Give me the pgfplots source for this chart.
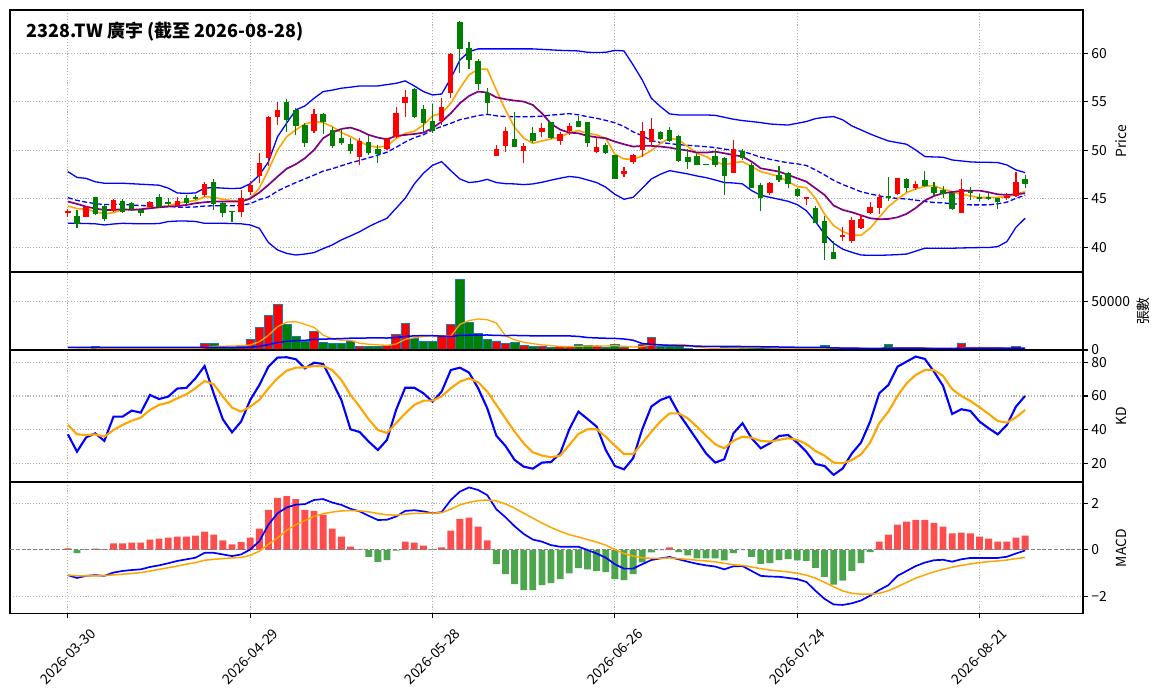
\documentclass[border=0pt]{standalone}
\usepackage{fontspec}
\setmainfont{Noto Sans CJK TC}
\usepackage{pgfplots}
\pgfplotsset{compat=1.18}
\usepackage{pgfplotstable}

\definecolor{cup}{RGB}{255,0,0}
\definecolor{cdn}{RGB}{0,128,0}
\definecolor{hup}{RGB}{255,77,77}
\definecolor{hdn}{RGB}{77,166,77}
\definecolor{maf}{RGB}{255,165,0}
\definecolor{mas}{RGB}{128,0,128}
\definecolor{bbc}{RGB}{0,0,255}
\definecolor{edgec}{RGB}{31,119,180}
\definecolor{gridc}{RGB}{176,176,176}

% candles: i bot top lo hi
\pgfplotstableread{
i bot top lo hi
0 43.5 43.7 43.1 43.9
2 43.16 44.19 43.1 44.26
5 43.75 44.88 43.64 44.95
9 44.19 44.64 44.12 44.74
12 44.26 44.78 44.19 45.15
15 45.4 46.53 45.22 46.7
19 43.68 45.05 43.16 45.91
20 45.74 46.43 45.4 46.87
21 47.39 48.66 46.67 49.76
22 49.18 53.47 48.38 53.54
23 53.47 54.16 52.61 55.02
27 52.03 53.71 51.82 54.23
32 49.35 50.96 48.49 51.24
35 50.17 51.13 50.03 51.24
36 51.41 53.81 51.24 54.5
37 54.85 55.46 53.4 56.22
41 53.06 54.43 52.61 55.36
42 55.95 59.93 55.36 60.0
47 49.45 50.1 49.45 50.55
48 50.45 51.99 49.86 52.44
50 49.97 50.45 48.73 50.79
52 51.89 52.34 51.34 52.78
54 50.96 51.65 50.55 51.92
55 52.03 52.51 51.58 52.85
58 49.86 50.34 49.69 51.24
61 47.6 47.87 47.29 48.32
62 48.83 49.48 48.56 49.62
63 50.03 51.99 49.35 52.96
64 50.89 52.2 50.38 53.3
73 47.7 50.1 47.7 51.07
77 45.64 46.67 45.4 46.77
81 44.95 45.15 44.36 45.22
85 41.1 41.27 40.69 42.13
86 40.69 42.82 40.48 43.16
87 42.03 42.92 41.89 43.33
88 43.5 44.19 43.44 44.64
89 44.09 45.15 43.44 45.5
91 45.46 47.11 45.4 47.11
93 46.08 46.53 45.91 46.87
98 43.5 46.01 43.5 47.01
103 45.05 45.29 44.88 45.64
104 45.29 46.7 45.15 47.8
}\candR
\pgfplotstableread{
i bot top lo hi
1 42.4 43.2 41.95 43.85
3 43.44 45.15 43.33 45.22
4 42.89 44.26 42.75 44.36
6 43.68 44.81 43.57 44.95
7 43.92 44.54 43.85 44.64
8 43.5 43.85 43.23 43.92
10 44.19 45.15 44.05 45.5
11 44.5 44.71 44.19 45.12
13 44.6 45.05 44.43 45.4
14 45.02 45.19 44.88 45.36
16 44.47 46.74 43.85 47.0
17 43.57 44.6 43.09 44.71
18 43.6 43.7 42.6 43.75
24 53.13 54.95 51.92 55.26
25 52.51 54.16 51.58 54.33
26 50.79 52.61 50.31 52.78
28 52.96 53.71 51.68 53.88
29 50.48 52.1 50.2 52.44
30 50.79 51.31 50.55 52.27
31 49.97 50.65 49.62 51.24
33 49.69 50.86 49.52 51.48
34 49.62 50.1 48.66 50.55
38 53.47 56.32 53.3 56.39
39 52.78 54.23 51.92 54.67
40 52.03 53.02 51.75 54.74
43 60.48 63.23 57.94 63.33
44 59.31 60.52 58.35 61.2
45 56.8 59.2 56.22 59.38
46 54.91 55.95 53.75 56.39
49 50.38 51.17 50.31 53.99
51 50.96 51.75 50.72 52.37
53 51.24 52.89 51.13 52.96
56 52.44 53.02 52.37 53.54
57 50.72 52.89 50.38 52.96
59 49.69 50.52 49.62 50.72
60 47.08 49.48 47.08 49.52
65 51.17 51.86 51.07 52.03
66 50.96 52.1 50.86 52.37
67 48.93 51.48 48.83 51.58
68 48.83 49.28 48.11 50.1
69 48.52 49.42 48.45 49.62
70 48.5 48.58 48.45 48.6
71 48.52 49.42 48.32 50.1
72 47.39 49.18 45.4 49.35
74 49.18 49.97 49.0 50.1
75 46.15 48.49 46.08 48.73
76 45.12 46.43 43.78 46.6
78 46.94 47.46 46.77 48.38
79 46.5 47.63 46.08 47.73
80 45.33 46.01 45.22 46.08
82 42.54 44.02 42.47 44.26
83 40.41 42.71 38.69 43.23
84 38.83 39.48 38.76 40.69
90 45.12 45.29 44.81 47.22
92 46.15 47.01 45.74 47.11
94 46.32 46.94 46.19 47.84
95 45.57 46.25 45.4 46.77
96 45.5 45.91 45.05 46.32
97 43.92 45.57 43.85 45.64
99 45.64 45.81 44.88 46.19
100 44.95 45.22 44.81 45.5
101 44.98 45.15 44.88 45.57
102 44.71 45.05 43.92 45.12
105 46.53 47.04 46.08 47.46
}\candG

% price lines: i ma5 ma10 mid up lo
\pgfplotstableread{
i m5 m10 mid up lo
0 44.26 44.71 45.12 47.80 42.47
1 43.99 44.47 44.83 47.20 42.47
2 43.92 44.19 44.65 47.10 42.45
3 43.68 43.99 44.50 46.75 42.42
4 43.44 43.85 44.40 46.60 42.30
5 43.57 43.85 44.42 46.60 42.40
6 43.85 43.92 44.43 46.60 42.47
7 43.92 43.85 44.35 46.55 42.44
8 43.85 43.92 44.30 46.50 42.42
9 44.12 44.02 44.28 46.45 42.42
10 44.12 44.12 44.25 46.40 42.45
11 44.26 44.19 44.22 46.10 42.65
12 44.54 44.26 44.14 45.60 42.70
13 44.71 44.36 44.13 45.55 42.70
14 44.81 44.54 44.16 45.60 42.66
15 45.22 44.64 44.25 46.10 42.47
16 45.15 44.71 44.28 46.15 42.47
17 44.95 44.71 44.27 46.10 42.47
18 44.81 44.71 44.28 46.05 42.45
19 44.71 44.71 44.32 46.10 42.42
20 45.05 45.02 44.50 46.55 42.30
21 46.08 45.64 44.90 47.45 41.96
22 47.97 46.43 45.20 48.80 40.48
23 50.03 47.29 45.80 51.40 39.72
24 51.40 48.10 46.25 52.80 39.37
25 52.10 48.56 46.67 54.16 39.20
26 52.71 49.18 47.05 54.57 39.30
27 52.96 50.03 47.44 55.36 39.45
28 52.85 51.24 47.85 56.05 39.86
29 52.44 51.82 48.10 56.20 40.24
30 51.82 52.20 48.40 56.40 40.76
31 51.41 52.34 48.70 56.50 41.17
32 50.89 52.03 48.95 56.63 41.60
33 50.45 51.58 49.22 56.63 42.13
34 50.31 51.31 49.50 56.63 42.58
35 50.45 51.13 49.80 56.77 42.99
36 51.20 51.48 50.30 56.90 44.02
37 51.75 51.58 50.85 57.15 45.05
38 51.96 51.68 51.30 56.63 46.53
39 52.61 51.82 51.60 56.05 47.63
40 53.54 52.27 52.10 55.70 48.45
41 53.81 52.96 52.45 55.80 48.83
42 54.85 53.81 52.78 57.40 47.90
43 56.39 54.85 53.15 59.30 47.04
44 57.77 55.60 53.35 60.17 46.67
45 58.35 56.05 53.58 60.45 46.77
46 58.35 55.95 53.70 60.45 47.00
47 56.22 55.46 53.55 60.45 46.67
48 54.16 55.26 53.48 60.45 46.56
49 52.37 55.12 53.46 60.45 46.53
50 51.24 55.02 53.45 60.45 46.46
51 50.72 54.67 53.47 60.45 46.53
52 50.96 53.81 53.52 60.40 46.70
53 51.18 52.73 53.62 60.35 46.92
54 51.35 52.13 53.70 60.30 47.12
55 51.82 51.82 53.77 60.27 47.30
56 52.03 51.75 53.66 60.24 47.20
57 51.75 51.48 53.46 60.10 46.94
58 51.58 51.34 53.30 60.07 46.67
59 51.24 51.24 53.08 60.10 46.19
60 49.59 50.89 52.84 60.30 45.46
61 49.11 50.62 52.45 60.24 44.95
62 49.07 50.38 51.90 58.80 45.15
63 49.42 50.45 51.50 57.25 46.08
64 49.97 50.45 51.00 55.36 47.04
65 50.72 50.38 50.80 54.50 47.53
66 51.24 50.27 50.69 53.75 47.90
67 51.07 50.10 50.58 53.64 47.73
68 50.38 49.97 50.51 53.64 47.56
69 49.69 49.76 50.44 53.64 47.35
70 49.35 49.76 50.37 53.64 47.18
71 48.83 49.86 50.28 53.60 46.94
72 48.49 49.69 50.12 53.40 46.67
73 48.73 49.52 50.00 53.20 46.63
74 48.83 49.35 49.88 53.06 46.53
75 48.32 48.83 49.60 52.96 45.84
76 47.80 48.14 49.28 52.85 45.36
77 47.56 47.97 49.07 52.71 45.15
78 47.29 47.80 48.88 52.65 44.95
79 46.77 47.46 48.71 52.60 44.74
80 46.25 47.11 48.60 52.78 44.40
81 46.15 46.77 48.43 52.96 43.78
82 45.05 46.08 47.98 53.26 42.65
83 43.40 45.40 47.46 53.40 41.35
84 42.23 44.30 46.90 53.47 40.41
85 41.62 43.85 46.46 53.13 39.80
86 41.24 43.61 46.10 52.51 39.48
87 41.24 43.30 45.72 52.10 39.20
88 41.96 42.99 45.50 51.68 39.17
89 43.09 42.89 45.30 51.31 39.17
90 44.19 42.92 45.12 50.96 39.20
91 44.95 43.09 45.04 50.79 39.24
92 45.64 43.44 44.97 50.62 39.30
93 46.01 44.05 44.86 50.03 39.60
94 46.29 44.81 44.72 49.35 39.90
95 46.36 45.29 44.62 49.31 39.90
96 45.98 45.57 44.58 49.28 39.90
97 45.74 45.70 44.48 49.00 39.90
98 45.46 45.81 44.43 48.90 39.93
99 45.29 45.84 44.37 48.80 39.95
100 45.12 45.84 44.37 48.76 39.97
101 45.15 45.67 44.37 48.76 39.97
102 45.15 45.46 44.48 48.73 40.07
103 45.22 45.40 44.65 48.49 40.58
104 45.46 45.46 45.04 47.97 42.06
105 45.74 45.57 45.38 47.70 42.99
}\plines

\pgfplotstableread{
i v
0 1000
2 1000
5 2400
9 1700
12 1200
15 6850
19 3400
20 11000
21 23300
22 35300
23 46900
27 19200
32 3400
35 4450
36 16100
37 27400
41 14700
42 26400
47 9250
48 6850
50 4800
52 3400
54 3400
55 4100
58 3400
61 2700
62 700
63 5500
64 13000
73 2400
77 1400
81 1000
85 1000
86 1000
87 1000
88 1000
89 1400
91 2400
93 1000
98 7200
103 1000
104 3800
}\volR
\pgfplotstableread{
i v
1 1000
3 3800
4 1400
6 1000
7 1000
8 1000
10 1200
11 1000
13 1200
14 2000
16 6850
17 2400
18 2400
24 26400
25 14000
26 9250
28 7900
29 6850
30 6850
31 9250
33 3400
34 3400
38 12000
39 8900
40 8900
43 72600
44 28400
45 17100
46 11000
49 7900
51 3400
53 2700
56 5800
57 4450
59 2700
60 5800
65 3400
66 3400
67 3400
68 2000
69 1000
70 700
71 1400
72 3400
74 2400
75 2400
76 2400
78 1400
79 1000
80 1000
82 1400
83 4450
84 2400
90 5800
92 1400
94 1000
95 1000
96 1000
97 1400
99 2400
100 1000
101 1000
102 1000
105 1000
}\volG
\pgfplotstableread{
i m5 m20
0 2400 2600
1 2200 2600
2 2000 2600
3 2000 2600
4 1640 2600
5 1920 2600
6 1920 2600
7 1920 2600
8 1360 2600
9 1420 2600
10 1180 2600
11 1180 2600
12 1220 2600
13 1260 2600
14 1320 2600
15 2450 2600
16 3620 2600
17 3860 2600
18 4100 2600
19 4380 2600
20 5210 2690
21 8500 3805
22 15080 5520
23 23980 7675
24 28580 8925
25 29180 9505
26 26370 9918
27 23150 10828
28 15350 11173
29 11440 11430
30 10010 11713
31 10010 12125
32 6850 12235
33 5950 12345
34 5260 12415
35 4780 12295
36 6150 12758
37 10950 14008
38 12670 14488
39 13770 14763
40 14660 14658
41 14380 14228
42 14180 13783
43 26300 15068
44 30200 15168
45 31840 15323
46 31100 15410
47 27670 14913
48 14520 14860
49 10420 14913
50 7960 14810
51 6440 14518
52 5270 14518
53 4440 14483
54 3540 14483
55 3400 14465
56 3880 13950
57 4090 12803
58 4230 12373
59 4090 12063
60 4430 11908
61 3810 11308
62 3060 10023
63 3480 6668
64 5540 5900
65 5060 5210
66 5200 4830
67 5740 4540
68 5040 4300
69 2640 3950
70 2100 3750
71 1700 3650
72 1700 3650
73 1780 3630
74 2060 3580
75 2400 3500
76 2600 3330
77 2200 3175
78 2000 3075
79 1720 2990
80 1440 2750
81 1160 2665
82 1160 2700
83 1770 2650
84 2050 2120
85 2050 2000
86 2050 1880
87 1970 1760
88 1280 1710
89 1080 1730
90 2040 1980
91 2320 2030
92 2400 1930
93 2400 1860
94 2320 1790
95 1360 1720
96 1080 1650
97 1080 1650
98 2320 1940
99 2600 2010
100 2600 2010
101 2600 2010
102 2520 1990
103 1280 1820
104 1560 1890
105 1560 1890
}\volma

\pgfplotstableread{
i k d
0 37.2 42.8
1 26.9 37.2
2 35.4 36.8
3 37.8 37.2
4 33.3 35.8
5 47.7 39.8
6 47.7 42.8
7 51.3 45.3
8 50.1 47.1
9 60.6 51.7
10 58.2 54.7
11 59.6 56.0
12 64.4 58.6
13 64.8 61.0
14 70.5 64.6
15 77.8 68.9
16 61.4 66.9
17 46.1 59.6
18 38.4 53.1
19 44.8 50.7
20 57.6 53.7
21 66.5 57.6
22 77.4 64.6
23 82.8 70.5
24 83.0 75.0
25 81.8 76.8
26 76.4 77.0
27 79.8 77.8
28 79.0 77.8
29 68.5 75.4
30 57.6 69.5
31 40.2 60.6
32 38.6 53.7
33 32.9 46.1
34 27.9 39.8
35 33.9 38.0
36 51.7 43.8
37 64.9 49.7
38 64.9 54.7
39 61.6 57.2
40 56.6 57.2
41 62.6 59.8
42 75.4 64.6
43 76.8 68.5
44 73.9 70.5
45 64.6 68.1
46 52.7 62.6
47 36.4 54.7
48 30.3 46.7
49 22.0 38.8
50 18.0 31.9
51 16.8 26.5
52 20.4 24.6
53 20.8 23.6
54 25.9 24.6
55 40.2 30.9
56 50.7 37.4
57 46.3 40.2
58 41.8 40.2
59 27.9 35.8
60 18.4 30.5
61 16.4 25.5
62 23.0 25.5
63 40.2 31.9
64 53.7 38.8
65 57.6 44.8
66 59.6 49.7
67 49.7 49.7
68 41.8 46.7
69 33.9 41.8
70 25.9 36.4
71 20.4 31.3
72 22.4 28.9
73 37.8 33.4
74 43.8 35.8
75 34.9 35.2
76 28.9 33.3
77 31.9 32.9
78 36.2 33.9
79 36.8 34.9
80 32.3 33.9
81 26.9 31.5
82 19.6 27.3
83 18.4 24.6
84 13.1 20.4
85 17.0 20.0
86 25.9 22.0
87 32.3 25.3
88 44.8 32.3
89 61.6 43.8
90 66.5 50.7
91 77.4 60.0
92 80.4 67.5
93 83.4 72.5
94 82.0 75.4
95 74.5 75.4
96 66.0 71.9
97 49.3 64.0
98 52.1 60.0
99 51.1 57.0
100 44.8 53.3
101 40.8 49.3
102 37.2 45.1
103 42.8 44.2
104 53.7 47.3
105 60.0 51.7
}\kd

\pgfplotstableread{
i v
0 0.06
2 0.01
3 0.05
4 0.02
5 0.27
6 0.27
7 0.31
8 0.31
9 0.44
10 0.48
11 0.52
12 0.57
13 0.57
14 0.61
15 0.78
16 0.65
17 0.40
18 0.23
19 0.33
20 0.52
21 0.91
22 1.72
23 2.23
24 2.31
25 2.18
26 1.72
27 1.67
28 1.50
29 0.91
30 0.57
31 0.14
32 0.02
37 0.35
38 0.31
39 0.18
40 0.01
41 0.10
42 0.82
43 1.33
44 1.38
45 0.99
46 0.40
66 0.10
89 0.35
90 0.65
91 1.08
92 1.21
93 1.29
94 1.29
95 1.16
96 0.99
97 0.70
98 0.74
99 0.70
100 0.57
101 0.48
102 0.35
103 0.35
104 0.52
105 0.61
}\histP
\pgfplotstableread{
i v
1 -0.14
33 -0.31
34 -0.52
35 -0.44
36 -0.04
47 -0.62
48 -1.05
49 -1.48
50 -1.73
51 -1.73
52 -1.52
53 -1.43
54 -1.26
55 -1.01
56 -0.79
57 -0.84
58 -0.92
59 -0.96
60 -1.26
61 -1.30
62 -1.05
63 -0.54
64 -0.11
65 -0.01
67 -0.10
68 -0.24
69 -0.37
70 -0.37
71 -0.37
72 -0.45
73 -0.14
74 -0.02
75 -0.31
76 -0.61
77 -0.57
78 -0.44
79 -0.40
80 -0.45
81 -0.48
82 -0.78
83 -1.16
84 -1.50
85 -1.33
86 -0.91
87 -0.57
88 -0.10
}\histN
\pgfplotstableread{
i dif sig
0 -1.09 -1.09
1 -1.21 -1.12
2 -1.12 -1.12
3 -1.09 -1.12
4 -1.12 -1.11
5 -0.98 -1.08
6 -0.91 -1.05
7 -0.87 -1.02
8 -0.84 -0.98
9 -0.74 -0.92
10 -0.67 -0.84
11 -0.58 -0.77
12 -0.48 -0.70
13 -0.41 -0.62
14 -0.34 -0.55
15 -0.13 -0.45
16 -0.13 -0.41
17 -0.20 -0.38
18 -0.27 -0.35
19 -0.20 -0.33
20 0.01 -0.24
21 0.37 -0.06
22 1.08 0.23
23 1.57 0.51
24 1.82 0.84
25 1.94 1.08
26 1.96 1.26
27 2.14 1.43
28 2.18 1.55
29 2.03 1.62
30 1.93 1.67
31 1.76 1.69
32 1.65 1.67
33 1.46 1.63
34 1.28 1.56
35 1.29 1.50
36 1.43 1.49
37 1.67 1.53
38 1.70 1.56
39 1.65 1.57
40 1.57 1.57
41 1.62 1.60
42 2.14 1.74
43 2.50 1.93
44 2.68 2.04
45 2.57 2.11
46 2.35 2.14
47 1.74 2.10
48 1.40 1.97
49 1.01 1.79
50 0.68 1.57
51 0.44 1.36
52 0.35 1.15
53 0.20 0.96
54 0.13 0.79
55 0.13 0.65
56 0.13 0.55
57 -0.01 0.44
58 -0.16 0.33
59 -0.34 0.20
60 -0.62 0.01
61 -0.81 -0.16
62 -0.81 -0.27
63 -0.62 -0.34
64 -0.44 -0.37
65 -0.37 -0.37
66 -0.31 -0.35
67 -0.41 -0.38
68 -0.51 -0.41
69 -0.60 -0.45
70 -0.67 -0.48
71 -0.72 -0.52
72 -0.84 -0.58
73 -0.71 -0.645
74 -0.70 -0.67
75 -0.91 -0.74
76 -1.12 -0.81
77 -1.15 -0.87
78 -1.16 -0.91
79 -1.21 -0.95
80 -1.26 -1.01
81 -1.38 -1.09
82 -1.76 -1.22
83 -2.11 -1.40
84 -2.35 -1.59
85 -2.37 -1.77
86 -2.30 -1.87
87 -2.18 -1.91
88 -1.97 -1.91
89 -1.73 -1.87
90 -1.52 -1.76
91 -1.12 -1.59
92 -0.91 -1.40
93 -0.70 -1.22
94 -0.55 -1.08
95 -0.45 -0.95
96 -0.43 -0.84
97 -0.51 -0.75
98 -0.41 -0.67
99 -0.35 -0.61
100 -0.35 -0.55
101 -0.35 -0.51
102 -0.35 -0.48
103 -0.30 -0.44
104 -0.16 -0.38
105 -0.03 -0.33
}\macd

\pgfplotsset{
  panel/.style={
    scale only axis, width=1073pt,
    xmin=-6.35, xmax=111.35,
    xtick={0,20,40,60,80,100},
    xtick pos=bottom, ytick pos=right, yticklabel pos=right,
    tick align=outside, major tick length=4.86pt,
    tick style={black, line width=1.1pt},
    axis line style={line width=1.1pt},
    grid=major,
    major grid style={gridc, line width=1.1pt, dash pattern=on 1.1pt off 1.8pt},
    ticklabel style={font=\fontsize{13.9}{16}\selectfont},
    anchor=north west,
  },
  upper/.style={xticklabels={}, xtick style={draw=none}},
  candle/.style={draw=none, mark=none, forget plot,
    error bars/.cd, y dir=plus, y explicit, error mark=none,
    error bar style={draw=#1}},
}

\begin{document}
\begin{tikzpicture}
\fill[white] (0pt,0pt) rectangle (1163pt,-698pt);
\useasboundingbox (0pt,0pt) rectangle (1163pt,-698pt);

% ---------- price ----------
\begin{axis}[panel, upper, at={(10pt,-10pt)}, height=262pt,
  ymin=37.45, ymax=64.46, ytick={40,45,50,55,60}, yticklabels={40,45,50,55,60}]
\addplot[bbc, line width=1.3pt, mark=none] table[x=i,y=up] \plines;
\addplot[bbc, line width=1.3pt, mark=none] table[x=i,y=lo] \plines;
\addplot[bbc, line width=1.3pt, mark=none, dash pattern=on 5pt off 2.4pt] table[x=i,y=mid] \plines;
\addplot[maf, line width=1.6pt, mark=none] table[x=i,y=m5] \plines;
\addplot[mas, line width=1.7pt, mark=none] table[x=i,y=m10] \plines;
\addplot[candle=cup, error bar style={line width=1.1pt}]
  table[x=i, y=lo, y error plus expr={\thisrow{hi}-\thisrow{lo}}] \candR;
\addplot[candle=cup, error bar style={line width=5.4pt}]
  table[x=i, y=bot, y error plus expr={\thisrow{top}-\thisrow{bot}}] \candR;
\addplot[candle=cdn, error bar style={line width=1.1pt}]
  table[x=i, y=lo, y error plus expr={\thisrow{hi}-\thisrow{lo}}] \candG;
\addplot[candle=cdn, error bar style={line width=5.4pt}]
  table[x=i, y=bot, y error plus expr={\thisrow{top}-\thisrow{bot}}] \candG;
\end{axis}

% ---------- volume ----------
\begin{axis}[panel, upper, at={(10pt,-272pt)}, height=78pt,
  ymin=0, ymax=80080, ytick={0,50000}, yticklabels={0,50000}, scaled y ticks=false]
\addplot[ybar, bar width=0.95, bar shift=0pt, fill=cup, draw=edgec, line width=0.7pt] table[x=i,y=v] \volR;
\addplot[ybar, bar width=0.95, bar shift=0pt, fill=cdn, draw=edgec, line width=0.7pt] table[x=i,y=v] \volG;
\addplot[maf, line width=1.3pt, mark=none] table[x=i,y=m5] \volma;
\addplot[bbc, line width=1.5pt, mark=none] table[x=i,y=m20] \volma;
\end{axis}

% ---------- KD ----------
\begin{axis}[panel, upper, at={(10pt,-350pt)}, height=131.7pt,
  ymin=9.07, ymax=87.3, ytick={20,40,60,80}, yticklabels={20,40,60,80}]
\addplot[bbc, line width=2.1pt, mark=none] table[x=i,y=k] \kd;
\addplot[maf, line width=2.1pt, mark=none] table[x=i,y=d] \kd;
\end{axis}

% ---------- MACD ----------
\begin{axis}[panel, at={(10pt,-482.3pt)}, height=131pt,
  ymin=-2.73, ymax=2.9, ytick={-2,0,2}, yticklabels={−2,0,2},
  xticklabels={2026-03-30,2026-04-29,2026-05-28,2026-06-26,2026-07-24,2026-08-21},
  xticklabel style={yshift=-38.3pt, rotate=45, anchor=center}]
\addplot[ybar, bar width=0.75, bar shift=0pt, fill=hup, draw=none] table[x=i,y=v] \histP;
\addplot[ybar, bar width=0.75, bar shift=0pt, fill=hdn, draw=none] table[x=i,y=v] \histN;
\addplot[gray, line width=1.1pt, dash pattern=on 4pt off 1.8pt, mark=none] coordinates {(-6.35,0) (111.35,0)};
\addplot[bbc, line width=1.7pt, mark=none] table[x=i,y=dif] \macd;
\addplot[maf, line width=1.5pt, mark=none] table[x=i,y=sig] \macd;
\end{axis}

% ---------- texts ----------
\node[anchor=base west, inner sep=0pt, font=\bfseries\fontsize{18}{22}\selectfont] at (26.6pt,-37.3pt) {2328.TW 廣宇 (截至 2026-08-28)};
\node[rotate=90, anchor=center, inner sep=0pt, font=\fontsize{13.9}{16}\selectfont] at (1121pt,-141pt) {Price};
\node[rotate=90, anchor=center, inner sep=0pt, font=\fontsize{13.9}{16}\selectfont] at (1143.5pt,-311pt) {張數};
\node[rotate=90, anchor=center, inner sep=0pt, font=\fontsize{13.9}{16}\selectfont] at (1121pt,-416pt) {KD};
\node[rotate=90, anchor=center, inner sep=0pt, font=\fontsize{13.9}{16}\selectfont] at (1121pt,-548pt) {MACD};
\end{tikzpicture}
\end{document}
